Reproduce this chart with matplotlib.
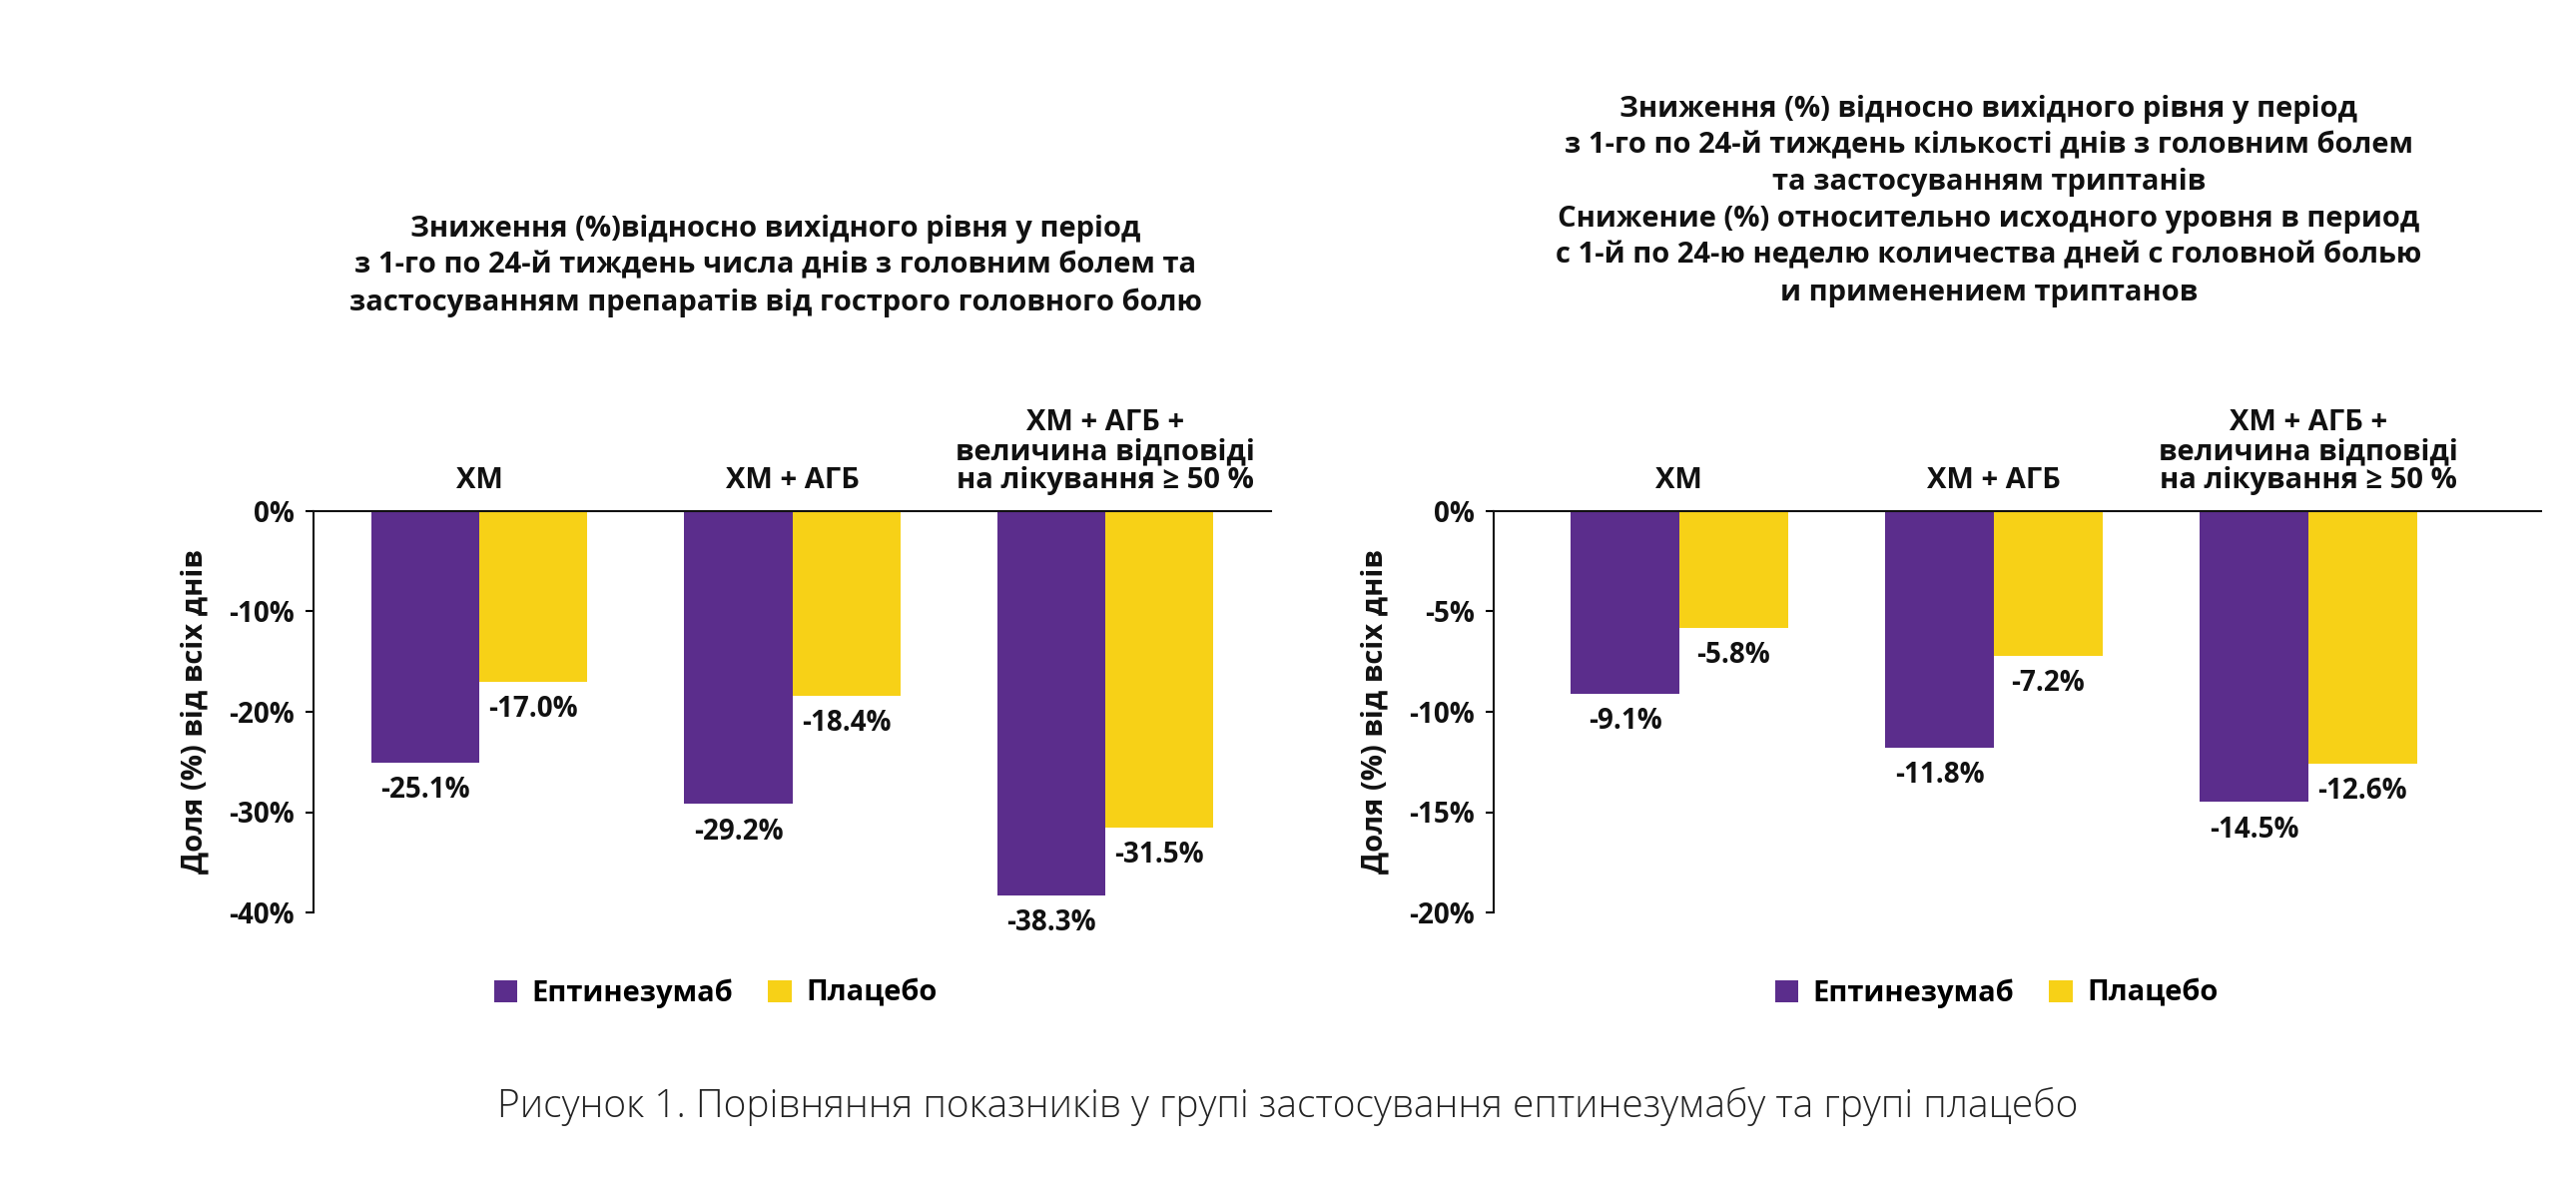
import matplotlib.pyplot as plt
import numpy as np

plt.rcParams['font.family'] = ['Open Sans', 'DejaVu Sans']

PURPLE = '#5B2D8C'
YELLOW = '#F7D117'
DARK = '#111111'

groups = ['ХМ', 'ХМ + АГБ', 'ХМ + АГБ +\nвеличина відповіді\nна лікування ≥ 50 %']
left_ept = [-25.1, -29.2, -38.3]
left_pla = [-17.0, -18.4, -31.5]
right_ept = [-9.1, -11.8, -14.5]
right_pla = [-5.8, -7.2, -12.6]

left_title = ('Зниження (%)відносно вихідного рівня у період\n'
              'з 1-го по 24-й тиждень числа днів з головним болем та\n'
              'застосуванням препаратів від гострого головного болю')
right_title = ('Зниження (%) відносно вихідного рівня у період\n'
               'з 1-го по 24-й тиждень кількості днів з головним болем\n'
               'та застосуванням триптанів\n'
               'Снижение (%) относительно исходного уровня в период\n'
               'с 1-й по 24-ю неделю количества дней с головной болью\n'
               'и применением триптанов')

fig = plt.figure(figsize=(25.8, 11.82), dpi=100, facecolor='white')
axL = fig.add_axes([314 / 2580, 1 - 914 / 1182, (1273 - 314) / 2580, 402 / 1182])
axR = fig.add_axes([1496 / 2580, 1 - 914 / 1182, (2545 - 1496) / 2580, 402 / 1182])

def draw(ax, ept, pla, ymin, step, xlim, off, leg_x):
    x = np.arange(len(groups))
    w = 0.345
    ax.bar(x - w / 2, ept, w, color=PURPLE, label='Ептинезумаб')
    ax.bar(x + w / 2, pla, w, color=YELLOW, label='Плацебо')
    for i in range(len(x)):
        ax.text(x[i] - w / 2, ept[i] - off, f'{ept[i]:.1f}%', ha='center', va='top',
                fontsize=20, fontweight='bold', color=DARK)
        ax.text(x[i] + w / 2, pla[i] - off, f'{pla[i]:.1f}%', ha='center', va='top',
                fontsize=20, fontweight='bold', color=DARK)
        ax.text(x[i], 0 + off * 1.2, groups[i], ha='center', va='bottom',
                fontsize=21, fontweight='bold', color=DARK, linespacing=1.0)
    ax.set_xlim(*xlim)
    ax.set_ylim(ymin, 0)
    ticks = np.arange(ymin, 0.01, step)
    ax.set_yticks(ticks)
    ax.set_yticklabels([f'{t:.0f}%' for t in ticks], fontsize=20, fontweight='bold', color=DARK)
    ax.set_xticks([])
    ax.spines[['bottom', 'right']].set_visible(False)
    ax.spines['top'].set_color(DARK)
    ax.spines['left'].set_color(DARK)
    ax.spines['top'].set_linewidth(1.5)
    ax.spines['left'].set_linewidth(1.5)
    ax.tick_params(axis='y', direction='out', length=6, width=1.5, pad=8)
    ax.set_ylabel('Доля (%) від всіх днів', fontsize=21, fontweight='bold', color=DARK, labelpad=14)
    ax.legend(loc='upper center', bbox_to_anchor=(leg_x, -0.1), ncol=2, frameon=False,
              prop={'weight': 'bold', 'size': 21}, handlelength=0.8,
              handleheight=0.8, columnspacing=1.2, handletextpad=0.5)

draw(axL, left_ept, left_pla, -40, 10, (-0.53, 2.53), 1.3, 0.42)
draw(axR, right_ept, right_pla, -20, 5, (-0.59, 2.74), 0.65, 0.48)

fig.text(777 / 2580, 1 - 215 / 1182, left_title, ha='center', va='top', fontsize=21,
         fontweight='bold', color=DARK, linespacing=1.35)
fig.text(1992 / 2580, 1 - 95 / 1182, right_title, ha='center', va='top', fontsize=21,
         fontweight='bold', color=DARK, linespacing=1.35)
fig.text(0.5, 1 - 1108 / 1182,
         'Рисунок 1. Порівняння показників у групі застосування ептинезумабу та групі плацебо',
         ha='center', va='center', fontsize=28, fontweight='light', color='#222222')

fig.savefig('out.png', dpi=100, facecolor='white')
